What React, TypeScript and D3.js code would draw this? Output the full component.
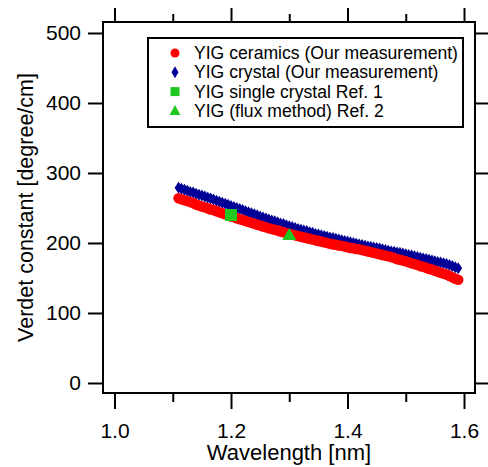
import React, { useEffect, useRef } from 'react'
import * as d3 from 'd3'

// wavelength of the measured points
const wavelength = [
    1.110, 1.115, 1.120, 1.125, 1.130, 1.135, 1.140, 1.145, 1.150, 1.155,
    1.160, 1.165, 1.170, 1.175, 1.180, 1.185, 1.190, 1.195, 1.200, 1.205,
    1.210, 1.215, 1.220, 1.225, 1.230, 1.235, 1.240, 1.245, 1.250, 1.255,
    1.260, 1.265, 1.270, 1.275, 1.280, 1.285, 1.290, 1.295, 1.300, 1.305,
    1.310, 1.315, 1.320, 1.325, 1.330, 1.335, 1.340, 1.345, 1.350, 1.355,
    1.360, 1.365, 1.370, 1.375, 1.380, 1.385, 1.390, 1.395, 1.400, 1.405,
    1.410, 1.415, 1.420, 1.425, 1.430, 1.435, 1.440, 1.445, 1.450, 1.455,
    1.460, 1.465, 1.470, 1.475, 1.480, 1.485, 1.490, 1.495, 1.500, 1.505,
    1.510, 1.515, 1.520, 1.525, 1.530, 1.535, 1.540, 1.545, 1.550, 1.555,
    1.560, 1.565, 1.570, 1.575, 1.580, 1.585, 1.590
]
const ceramics = [
    264, 262.5, 261, 260, 258.5, 257, 255, 253.5, 252, 251,
    249.5, 248, 247, 245.5, 244, 242.5, 241, 239.5, 238, 237,
    235.5, 234, 233, 231.5, 230, 229, 227.5, 226, 225, 223.5,
    222.5, 221, 220, 219, 218, 216.5, 215.5, 214, 213, 212,
    211, 210, 209, 208, 207, 206, 205, 204, 203, 202,
    201, 200, 199, 198, 197.5, 196.5, 196, 195, 194, 193,
    192.5, 191.5, 191, 190, 189, 188, 187, 186, 185, 184,
    183, 182, 181, 180, 178.5, 177, 176, 175, 174, 172.5,
    171, 170, 168.5, 167, 166, 164.5, 163, 162, 160.5, 159,
    157.5, 156, 155, 153, 151, 149, 147.5
]
const crystal = [
    279, 277.5, 276, 274.5, 273, 272, 270.5, 269, 268, 266.5,
    265, 263.5, 262, 260.5, 259, 257.5, 256, 254.5, 253, 251.5,
    250, 248.5, 247, 245.5, 244, 242.5, 241, 239.5, 238, 236.5,
    235, 233.5, 232, 231, 229.5, 228, 227, 225.5, 224, 223,
    221.5, 220, 219, 218, 217, 215.5, 214.5, 213, 212, 211,
    210, 209, 208, 207, 206, 205, 204, 203, 202, 201,
    200, 199, 198, 197, 196, 195, 194.5, 193.5, 193, 192,
    191, 190, 189, 188, 187.5, 186.5, 186, 185, 184, 183,
    182, 181, 180, 179, 178, 177, 176, 175, 174, 173,
    172, 171, 170, 168.5, 167, 165.5, 164
]
const ref1 = [{ x: 1.2, y: 240 }]
const ref2 = [{ x: 1.3, y: 211 }]

const xMajor = [1.0, 1.2, 1.4, 1.6]
const xMinor = [1.1, 1.3, 1.5]
const yTicks = [0, 100, 200, 300, 400, 500]

const legendLabels = [
    'YIG ceramics (Our measurement)',
    'YIG crystal (Our measurement)',
    'YIG single crystal Ref. 1',
    'YIG (flux method) Ref. 2'
]

const RED = '#ff0000'
const BLUE = '#000096'
const GREEN = '#1ec81e'
const FONT = '"Liberation Sans", Arial, Helvetica, sans-serif'

const W = 488
const H = 467
const margin = { top: 22, right: 13, bottom: 74, left: 103 }

const diamond = (w: number, h: number) => `M0,${-h}L${w},0L0,${h}L${-w},0Z`
const triangle = (w: number, h: number) => `M0,${-h * 0.6}L${w},${h * 0.4}L${-w},${h * 0.4}Z`

export default function App() {
    const svgRef = useRef<SVGSVGElement | null>(null)

    useEffect(() => {
        const svg = d3.select(svgRef.current)
        svg.selectAll('*').remove()

        const x0 = margin.left
        const x1 = W - margin.right
        const y0 = margin.top
        const y1 = H - margin.bottom

        const x = d3.scaleLinear().domain([0.98026, 1.61888]).range([x0, x1])
        const y = d3.scaleLinear().domain([-14.3, 515.7]).range([y1, y0])

        const styleAxis = (g: any) => {
            g.select('.domain').remove()
            g.selectAll('line').attr('stroke', '#000').attr('stroke-width', 2)
            g.selectAll('text')
                .attr('fill', '#000')
                .style('font-family', FONT)
                .style('font-size', '21px')
        }

        // bottom axis
        svg.append('g')
            .attr('transform', `translate(0,${y1})`)
            .call(d3.axisBottom(x).tickValues(xMajor).tickSize(16).tickPadding(14).tickFormat(d3.format('.1f')))
            .call(styleAxis)
        svg.append('g')
            .attr('transform', `translate(0,${y1})`)
            .call(d3.axisBottom(x).tickValues(xMinor).tickSize(9).tickFormat(() => ''))
            .call(styleAxis)

        // top axis (mirror)
        svg.append('g')
            .attr('transform', `translate(0,${y0})`)
            .call(d3.axisTop(x).tickValues(xMajor).tickSize(14).tickFormat(() => ''))
            .call(styleAxis)
        svg.append('g')
            .attr('transform', `translate(0,${y0})`)
            .call(d3.axisTop(x).tickValues(xMinor).tickSize(8).tickFormat(() => ''))
            .call(styleAxis)

        // left axis
        svg.append('g')
            .attr('transform', `translate(${x0},0)`)
            .call(d3.axisLeft(y).tickValues(yTicks).tickSize(15).tickPadding(7).tickFormat(d3.format('d')))
            .call(styleAxis)

        // right axis (mirror)
        svg.append('g')
            .attr('transform', `translate(${x1},0)`)
            .call(d3.axisRight(y).tickValues(yTicks).tickSize(14).tickFormat(() => ''))
            .call(styleAxis)

        // frame
        svg.append('rect')
            .attr('x', x0)
            .attr('y', y0)
            .attr('width', x1 - x0)
            .attr('height', y1 - y0)
            .attr('fill', 'none')
            .attr('stroke', '#000')
            .attr('stroke-width', 2)

        // axis titles
        svg.append('text')
            .attr('x', (x0 + x1) / 2)
            .attr('y', 460)
            .attr('text-anchor', 'middle')
            .style('font-family', FONT)
            .style('font-size', '22px')
            .text('Wavelength [nm]')
        svg.append('text')
            .attr('transform', `translate(33,${(y0 + y1) / 2}) rotate(-90)`)
            .attr('text-anchor', 'middle')
            .style('font-family', FONT)
            .style('font-size', '21.5px')
            .text('Verdet constant [degree/cm]')

        const plot = svg.append('g')

        // crystal (diamonds)
        plot.selectAll('path.crystal')
            .data(wavelength.map((w, i) => ({ x: w, y: crystal[i] })))
            .enter()
            .append('path')
            .attr('class', 'crystal')
            .attr('d', diamond(4, 6))
            .attr('transform', (d) => `translate(${x(d.x)},${y(d.y)})`)
            .attr('fill', BLUE)

        // ceramics (circles)
        plot.selectAll('circle.ceramics')
            .data(wavelength.map((w, i) => ({ x: w, y: ceramics[i] })))
            .enter()
            .append('circle')
            .attr('class', 'ceramics')
            .attr('cx', (d) => x(d.x))
            .attr('cy', (d) => y(d.y))
            .attr('r', 5.3)
            .attr('fill', RED)

        // references
        plot.selectAll('rect.ref1')
            .data(ref1)
            .enter()
            .append('rect')
            .attr('class', 'ref1')
            .attr('x', (d) => x(d.x) - 6)
            .attr('y', (d) => y(d.y) - 6)
            .attr('width', 12)
            .attr('height', 12)
            .attr('fill', GREEN)
        plot.selectAll('path.ref2')
            .data(ref2)
            .enter()
            .append('path')
            .attr('class', 'ref2')
            .attr('d', triangle(7, 12))
            .attr('transform', (d) => `translate(${x(d.x)},${y(d.y)})`)
            .attr('fill', GREEN)

        // legend
        const legend = svg.append('g')
        legend.append('rect')
            .attr('x', 148)
            .attr('y', 38)
            .attr('width', 315)
            .attr('height', 89)
            .attr('fill', '#fff')
            .attr('stroke', '#000')
            .attr('stroke-width', 2)

        const rowY = (i: number) => 53 + i * 19.3
        const mx = 175
        legend.append('circle').attr('cx', mx).attr('cy', rowY(0)).attr('r', 4.5).attr('fill', RED)
        legend.append('path').attr('d', diamond(3.5, 6)).attr('transform', `translate(${mx},${rowY(1)})`).attr('fill', BLUE)
        legend.append('rect').attr('x', mx - 4.5).attr('y', rowY(2) - 4.5).attr('width', 9).attr('height', 9).attr('fill', GREEN)
        legend.append('path').attr('d', triangle(5.5, 10)).attr('transform', `translate(${mx},${rowY(3)})`).attr('fill', GREEN)

        legend.selectAll('text.lbl')
            .data(legendLabels)
            .enter()
            .append('text')
            .attr('class', 'lbl')
            .attr('x', 194)
            .attr('y', (d, i) => rowY(i) + 6)
            .style('font-family', FONT)
            .style('font-size', '17.6px')
            .text((d) => d)
    }, [])

    return (
        <svg
            ref={svgRef}
            width={W}
            height={H}
            style={{ position: 'absolute', left: 0, top: 0, background: '#fff' }}
        />
    )
}
